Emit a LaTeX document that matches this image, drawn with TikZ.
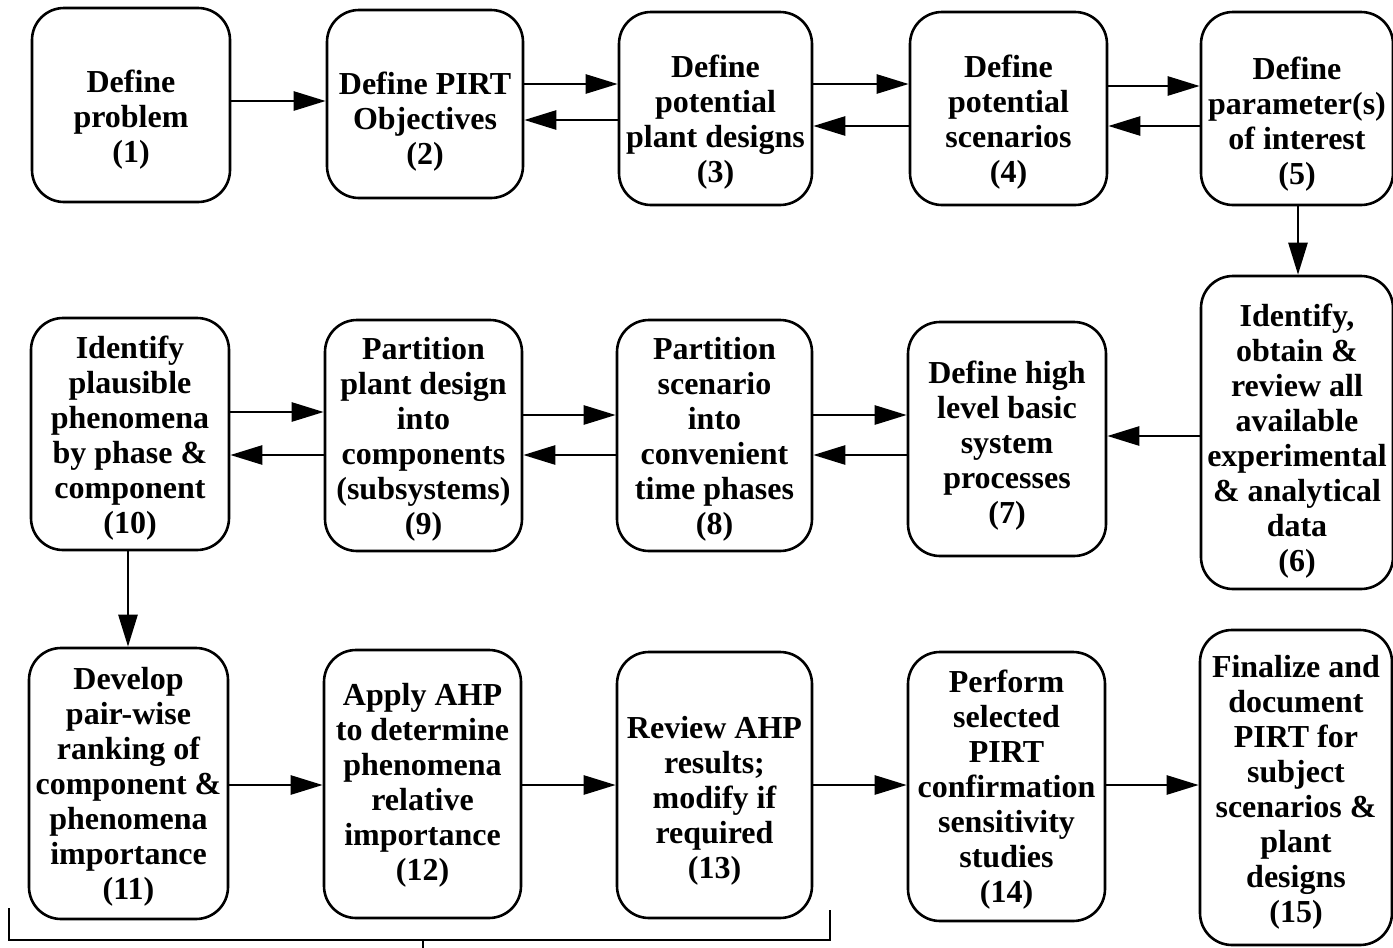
\documentclass[tikz,border=0pt]{standalone}
\usepackage{fontspec}
\setmainfont{Liberation Serif}
\usetikzlibrary{arrows.meta}
\tikzset{
  box/.style={draw, line width=2.6pt, rounded corners=32pt, inner sep=0pt},
  txt/.style={inner sep=0pt, align=center, font=\fontsize{32}{35}\selectfont\bfseries},
  arr/.style={line width=2.6pt, -{Triangle[length=32pt,width=19pt]}},
  brk/.style={line width=2.2pt}
}
\begin{document}
\begin{tikzpicture}[x=1pt,y=-1pt]
\useasboundingbox (0,0) rectangle (1393,948);
% row 1
\node[box, minimum width=198pt, minimum height=194pt] (n1) at (131,105) {};
\node[txt] (t1) at (131,120) {Define\\problem\\(1)};
\node[box, minimum width=196pt, minimum height=188pt] (n2) at (425,104) {};
\node[txt] (t2) at (425,122) {Define PIRT\\Objectives\\(2)};
\node[box, minimum width=193pt, minimum height=193pt] (n3) at (715.5,108.5) {};
\node[txt] (t3) at (715.5,122.5) {Define\\potential\\plant designs\\(3)};
\node[box, minimum width=197pt, minimum height=193pt] (n4) at (1008.5,108.5) {};
\node[txt] (t4) at (1008.5,122.5) {Define\\potential\\scenarios\\(4)};
\node[box, minimum width=192pt, minimum height=193pt] (n5) at (1297,108.5) {};
\node[txt] (t5) at (1297,124.5) {Define\\parameter(s)\\of interest\\(5)};
% row 2
\node[box, minimum width=192pt, minimum height=313pt] (n6) at (1297,432.5) {};
\node[txt] (t6) at (1297,441.5) {Identify,\\obtain \&\\review all\\available\\experimental\\\& analytical\\data\\(6)};
\node[box, minimum width=198pt, minimum height=234pt] (n7) at (1007,439) {};
\node[txt] (t7) at (1007,446) {Define high\\level basic\\system\\processes\\(7)};
\node[box, minimum width=195pt, minimum height=231pt] (n8) at (714.5,435.5) {};
\node[txt] (t8) at (714.5,439.5) {Partition\\scenario\\into\\convenient\\time phases\\(8)};
\node[box, minimum width=197pt, minimum height=231pt] (n9) at (423.5,435.5) {};
\node[txt] (t9) at (423.5,439.5) {Partition\\plant design\\into\\components\\(subsystems)\\(9)};
\node[box, minimum width=198pt, minimum height=232pt] (n10) at (130,434) {};
\node[txt] (t10) at (130,438) {Identify\\plausible\\phenomena\\by phase \&\\component\\(10)};
% row 3
\node[box, minimum width=199pt, minimum height=271pt] (n11) at (128.5,783.5) {};
\node[txt] (t11) at (128.5,786.5) {Develop\\pair-wise\\ranking of\\component \&\\phenomena\\importance\\(11)};
\node[box, minimum width=197pt, minimum height=268pt] (n12) at (422.5,784) {};
\node[txt] (t12) at (422.5,785) {Apply AHP\\to determine\\phenomena\\relative\\importance\\(12)};
\node[box, minimum width=195pt, minimum height=266pt] (n13) at (714.5,785) {};
\node[txt] (t13) at (714.5,801) {Review AHP\\results;\\modify if\\required\\(13)};
\node[box, minimum width=197pt, minimum height=269pt] (n14) at (1006.5,786.5) {};
\node[txt] (t14) at (1006.5,789.5) {Perform\\selected\\PIRT\\confirmation\\sensitivity\\studies\\(14)};
\node[box, minimum width=192pt, minimum height=315pt] (n15) at (1296,787.5) {};
\node[txt] (t15) at (1296,792.5) {Finalize and\\document\\PIRT for\\subject\\scenarios \&\\plant\\designs\\(15)};
% helper coordinates
\coordinate (y101) at (0,101);
\coordinate (y84) at (0,84);
\coordinate (y86) at (0,86);
\coordinate (y120) at (0,120);
\coordinate (y126) at (0,126);
\coordinate (y436) at (0,436);
\coordinate (y415) at (0,415);
\coordinate (y412) at (0,412);
\coordinate (y455) at (0,455);
\coordinate (y785) at (0,785);
\coordinate (x1298) at (1298,0);
\coordinate (x128) at (128,0);
% row 1 arrows
\draw[arr] (n1.east |- y101) -- (n2.west |- y101);
\draw[arr] (n2.east |- y84) -- (n3.west |- y84);
\draw[arr] (n3.west |- y120) -- (n2.east |- y120);
\draw[arr] (n3.east |- y84) -- (n4.west |- y84);
\draw[arr] (n4.west |- y126) -- (n3.east |- y126);
\draw[arr] (n4.east |- y86) -- (n5.west |- y86);
\draw[arr] (n5.west |- y126) -- (n4.east |- y126);
\draw[arr] (n5.south -| x1298) -- (n6.north -| x1298);
% row 2 arrows
\draw[arr] (n6.west |- y436) -- (n7.east |- y436);
\draw[arr] (n8.east |- y415) -- (n7.west |- y415);
\draw[arr] (n7.west |- y455) -- (n8.east |- y455);
\draw[arr] (n9.east |- y415) -- (n8.west |- y415);
\draw[arr] (n8.west |- y455) -- (n9.east |- y455);
\draw[arr] (n10.east |- y412) -- (n9.west |- y412);
\draw[arr] (n9.west |- y455) -- (n10.east |- y455);
\draw[arr] (n10.south -| x128) -- (n11.north -| x128);
% row 3 arrows
\draw[arr] (n11.east |- y785) -- (n12.west |- y785);
\draw[arr] (n12.east |- y785) -- (n13.west |- y785);
\draw[arr] (n13.east |- y785) -- (n14.west |- y785);
\draw[arr] (n14.east |- y785) -- (n15.west |- y785);
% bracket
\coordinate (bl) at (9,908);
\coordinate (br) at (830,910);
\coordinate (bm) at (423,940);
\coordinate (bt) at (423,950);
\draw[brk] (bl) -- (9,940) -- (830,940) -- (br);
\draw[brk] (bm) -- (bt);
\end{tikzpicture}
\end{document}
